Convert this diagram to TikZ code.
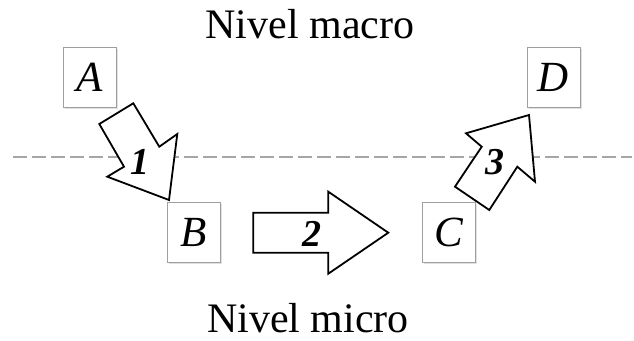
\documentclass[tikz,border=0pt]{standalone}
\usepackage{fontspec}
\setmainfont{Liberation Serif}
\usetikzlibrary{shadows}
\tikzset{
  statebox/.style={draw=gray!75, line width=1pt, fill=white, minimum width=53pt, minimum height=60pt,
    inner sep=0pt, font=\fontsize{43}{46}\selectfont\itshape,
    drop shadow={shadow xshift=1.5pt, shadow yshift=-1.5pt, fill=gray!40, opacity=0.6}},
  blockarrow/.style={draw=black, line width=1.8pt, fill=white, line join=miter},
  stepnum/.style={inner sep=0pt, font=\fontsize{38}{40}\selectfont\bfseries\itshape},
  levellabel/.style={inner sep=0pt, font=\fontsize{42}{46}\selectfont},
  levelline/.style={draw=gray!70, line width=1.8pt, dash pattern=on 14pt off 5pt}
}
\begin{document}
\begin{tikzpicture}[x=1pt,y=-1pt]
\useasboundingbox (0,0) rectangle (634,340);

% level captions
\node[levellabel, anchor=base] (macro) at (310,38) {Nivel macro};
\node[levellabel, anchor=base] (micro) at (308,332) {Nivel micro};

% boundary between levels
\coordinate (lineL) at (13,157);
\coordinate (lineR) at (632,157);
\draw[levelline] (lineL) -- (lineR);

% states
\node[statebox] (A) at (90,77.5) {A};
\node[statebox] (D) at (553.5,77.5) {D};
\node[statebox] (B) at (193.5,232.5) {B};
\node[statebox] (C) at (449,232.5) {C};

% step 1: downward block arrow from A to B
\draw[blockarrow] (99.3,124) -- (133.3,103.3) -- (159.3,146.7) -- (177.3,134)
  -- (169,200) -- (107.3,176.7) -- (124,166.7) -- cycle;
\node[stepnum] (s1) at (140,162) {1};

% step 2: horizontal block arrow from B to C
\draw[blockarrow] (253.3,212.7) -- (328.3,212.7) -- (328.3,191.7) -- (388.3,232.7)
  -- (328.3,273.7) -- (328.3,252.7) -- (253.3,252.7) -- cycle;
\node[stepnum] (s2) at (311.7,234) {2};

% step 3: upward block arrow from C to D
\draw[blockarrow] (489.3,210) -- (455,186.7) -- (481.7,146.7) -- (466,133.3)
  -- (529,115) -- (535,181.7) -- (517.3,166.7) -- cycle;
\node[stepnum] (s3) at (495,162) {3};
\end{tikzpicture}
\end{document}
